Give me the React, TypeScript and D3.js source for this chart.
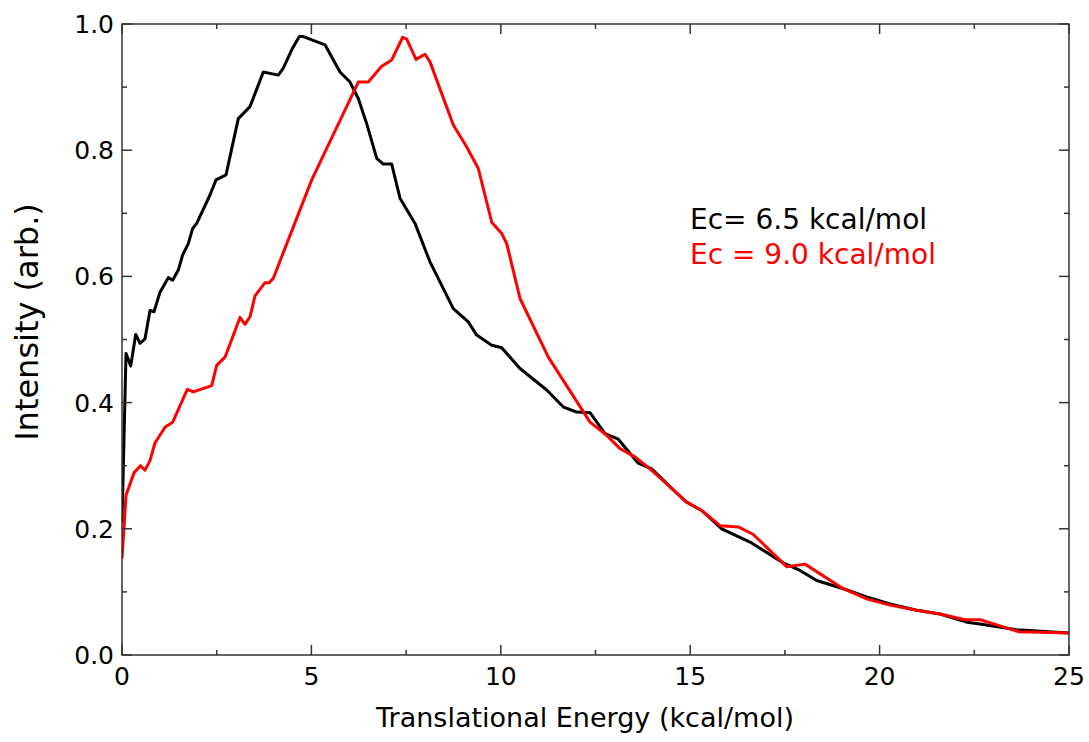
import React from "react";
import * as d3 from "d3";

const blackX = [0, 0.106, 0.23, 0.362, 0.475, 0.607, 0.739, 0.845, 1.003, 1.222, 1.338, 1.486, 1.602, 1.75, 1.866, 1.972, 2.323, 2.482, 2.746, 3.07, 3.379, 3.73, 4.126, 4.258, 4.48, 4.681, 4.786, 5.359, 5.755, 6.019, 6.238, 6.46, 6.724, 6.898, 7.12, 7.339, 7.735, 8.131, 8.746, 9.142, 9.364, 9.76, 10.024, 10.507, 11.212, 11.65, 12.004, 12.355, 12.751, 13.102, 13.63, 13.984, 14.512, 14.908, 15.304, 15.832, 16.579, 17.458, 17.899, 18.34, 19.042, 19.659, 20.275, 20.979, 21.595, 22.3, 22.65, 23.619, 25];
const blackY = [0.21, 0.478, 0.458, 0.508, 0.494, 0.501, 0.546, 0.544, 0.575, 0.598, 0.594, 0.61, 0.634, 0.652, 0.676, 0.684, 0.729, 0.753, 0.761, 0.85, 0.869, 0.924, 0.919, 0.93, 0.959, 0.98, 0.98, 0.967, 0.924, 0.908, 0.882, 0.842, 0.787, 0.778, 0.778, 0.724, 0.684, 0.623, 0.549, 0.528, 0.507, 0.491, 0.487, 0.454, 0.42, 0.393, 0.385, 0.384, 0.351, 0.342, 0.304, 0.295, 0.264, 0.242, 0.229, 0.2, 0.179, 0.146, 0.134, 0.118, 0.105, 0.092, 0.081, 0.071, 0.065, 0.052, 0.049, 0.04, 0.035];

const redX = [0, 0.106, 0.317, 0.488, 0.607, 0.739, 0.871, 1.135, 1.338, 1.724, 1.882, 2.368, 2.5, 2.719, 3.115, 3.247, 3.379, 3.511, 3.775, 3.889, 3.994, 5.008, 6.238, 6.502, 6.856, 7.12, 7.41, 7.516, 7.761, 7.999, 8.131, 8.746, 9.1, 9.406, 9.76, 10.024, 10.156, 10.507, 11.254, 12.355, 12.796, 13.147, 13.543, 13.939, 14.512, 14.863, 15.304, 15.787, 16.27, 16.666, 17.547, 18.03, 19.042, 19.659, 20.275, 20.979, 21.595, 22.254, 22.65, 23.662, 25];
const redY = [0.153, 0.253, 0.289, 0.3, 0.293, 0.308, 0.336, 0.361, 0.369, 0.421, 0.417, 0.427, 0.459, 0.472, 0.535, 0.524, 0.536, 0.569, 0.59, 0.59, 0.597, 0.753, 0.908, 0.908, 0.933, 0.943, 0.979, 0.976, 0.944, 0.952, 0.94, 0.84, 0.805, 0.771, 0.686, 0.668, 0.652, 0.565, 0.472, 0.369, 0.348, 0.327, 0.314, 0.295, 0.264, 0.244, 0.229, 0.205, 0.203, 0.191, 0.14, 0.144, 0.105, 0.089, 0.079, 0.071, 0.065, 0.056, 0.056, 0.037, 0.035];

const xMajor = [0, 5, 10, 15, 20, 25];
const xMinor = [2.5, 7.5, 12.5, 17.5, 22.5];
const yMajor = [0, 0.2, 0.4, 0.6, 0.8, 1.0];
const yMinor = [0.1, 0.3, 0.5, 0.7, 0.9];

const legend = [
  { label: "Ec= 6.5 kcal/mol", color: "#000000" },
  { label: "Ec = 9.0 kcal/mol", color: "#ff0000" },
];

const W = 1089, H = 742;
const L = 122, R = 1069, T = 24, B = 655;
const FONT = "'DejaVu Sans', Verdana, sans-serif";

export default function App() {
  const x = d3.scaleLinear().domain([0, 25]).range([L, R]);
  const y = d3.scaleLinear().domain([0, 1]).range([B, T]);
  const line = d3.line<[number, number]>().x(d => x(d[0])).y(d => y(d[1]));
  const blackPts = blackX.map((v, i) => [v, blackY[i]] as [number, number]);
  const redPts = redX.map((v, i) => [v, redY[i]] as [number, number]);
  const axisColor = "#333";
  return (
    <svg width={W} height={H} style={{ position: "absolute", left: 0, top: 0, background: "#fff" }}>
      <rect x={0} y={0} width={W} height={H} fill="#fff" />
      <defs>
        <clipPath id="clip"><rect x={L} y={T} width={R - L} height={B - T} /></clipPath>
      </defs>
      <g clipPath="url(#clip)">
        <path d={line(blackPts) || ""} fill="none" stroke="#000" strokeWidth={3} strokeLinejoin="round" />
        <path d={line(redPts) || ""} fill="none" stroke="#ff0000" strokeWidth={3} strokeLinejoin="round" />
      </g>
      <rect x={L} y={T} width={R - L} height={B - T} fill="none" stroke={axisColor} strokeWidth={1.5} />
      {xMajor.map(v => (
        <g key={"xM" + v}>
          <line x1={x(v)} x2={x(v)} y1={B} y2={B - 10} stroke={axisColor} strokeWidth={1.5} />
          <line x1={x(v)} x2={x(v)} y1={T} y2={T + 10} stroke={axisColor} strokeWidth={1.5} />
          <text x={x(v)} y={B + 30} fontFamily={FONT} fontSize={25} textAnchor="middle" fill="#000">{v}</text>
        </g>
      ))}
      {xMinor.map(v => (
        <g key={"xm" + v}>
          <line x1={x(v)} x2={x(v)} y1={B} y2={B - 5} stroke={axisColor} strokeWidth={1.5} />
          <line x1={x(v)} x2={x(v)} y1={T} y2={T + 5} stroke={axisColor} strokeWidth={1.5} />
        </g>
      ))}
      {yMajor.map(v => (
        <g key={"yM" + v}>
          <line x1={L} x2={L + 10} y1={y(v)} y2={y(v)} stroke={axisColor} strokeWidth={1.5} />
          <line x1={R} x2={R - 10} y1={y(v)} y2={y(v)} stroke={axisColor} strokeWidth={1.5} />
          <text x={L - 8} y={y(v) + 9} fontFamily={FONT} fontSize={25} textAnchor="end" fill="#000">{v.toFixed(1)}</text>
        </g>
      ))}
      {yMinor.map(v => (
        <g key={"ym" + v}>
          <line x1={L} x2={L + 5} y1={y(v)} y2={y(v)} stroke={axisColor} strokeWidth={1.5} />
          <line x1={R} x2={R - 5} y1={y(v)} y2={y(v)} stroke={axisColor} strokeWidth={1.5} />
        </g>
      ))}
      <text x={585} y={727} fontFamily={FONT} fontSize={27} textAnchor="middle" fill="#000">Translational Energy (kcal/mol)</text>
      <text transform={`translate(38, 322) rotate(-90)`} fontFamily={FONT} fontSize={32} textAnchor="middle" fill="#000">Intensity (arb.)</text>
      {legend.map((d, i) => (
        <text key={d.label} x={690} y={229 + i * 35} fontFamily={FONT} fontSize={28} fill={d.color}>{d.label}</text>
      ))}
    </svg>
  );
}
